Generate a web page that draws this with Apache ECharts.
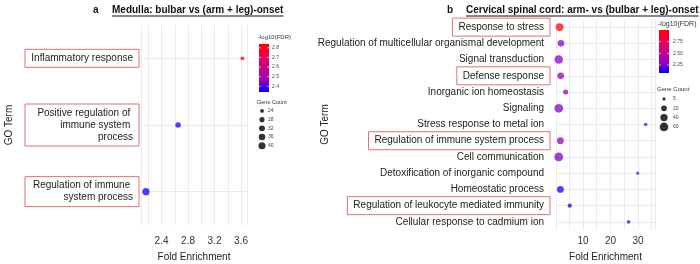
<!DOCTYPE html>
<html>
<head>
<meta charset="utf-8">
<script src="https://cdn.jsdelivr.net/npm/echarts@6/dist/echarts.min.js"></script>
<style>
html, body { margin: 0; padding: 0; background: #fff; }
#chart { width: 700px; height: 264px; }
</style>
</head>
<body>
<div id="chart"></div>
<script>
// panel a: Medulla
var termsA = ['Inflammatory response', 'Positive regulation of immune system process', 'Regulation of immune system process'];
var foldA = [3.62, 2.65, 2.165];
var countA = [24, 30, 41];
var fdrA = [2.84, 2.355, 2.345];
var xTicksA = [2.4, 2.8, 3.2, 3.6];
var fdrTicksA = [2.4, 2.5, 2.6, 2.7, 2.8];
var countTicksA = [24, 28, 32, 36, 40];

// panel b: Cervical spinal cord
var termsB = ['Response to stress', 'Regulation of multicellular organismal development', 'Signal transduction',
  'Defense response', 'Inorganic ion homeostasis', 'Signaling', 'Stress response to metal ion',
  'Regulation of immune system process', 'Cell communication', 'Detoxification of inorganic compound',
  'Homeostatic process', 'Regulation of leukocyte mediated immunity', 'Cellular response to cadmium ion'];
var foldB = [1.5, 2.0, 1.2, 1.9, 3.7, 1.2, 32.8, 1.8, 1.2, 29.9, 1.8, 5.2, 26.6];
var countB = [45, 30, 58, 30, 14, 62, 6, 32, 63, 5, 32, 9, 6];
var fdrB = [3.0, 2.3, 2.3, 2.3, 2.3, 2.28, 2.25, 2.3, 2.28, 2.25, 2.12, 2.1, 2.18];
var boxedB = [true, false, false, true, false, false, false, true, false, false, false, true, false];
var xTicksB = [10, 20, 30];
var fdrTicksB = [2.25, 2.5, 2.75];
var countTicksB = [5, 20, 40, 60];

var titleA = 'Medulla: bulbar vs (arm + leg)-onset';
var titleB = 'Cervical spinal cord: arm- vs (bulbar + leg)-onset';

var pal = ['#0000FF', '#9B00C2', '#C90089', '#E80050', '#FF0000'];
var FONT = '"Liberation Sans", Arial, sans-serif';
var boxColor = '#e07070';
var gridColor = '#ebebeb';

function sizer(lo, hi, dmin, dmax) {
  return function (v) {
    var t = Math.max(0, Math.min(1, (v - lo) / (hi - lo)));
    return dmin + (dmax - dmin) * Math.sqrt(t);
  };
}
var sizeA = sizer(23, 41, 2.8, 7.2);
var sizeB = sizer(4, 63, 2.4, 8.8);

function tickFormatter(list, dec) {
  return function (v) {
    for (var i = 0; i < list.length; i++) {
      if (Math.abs(v - list[i]) < 1e-6) return list[i].toFixed(dec);
    }
    return '';
  };
}

var measure = document.createElement('canvas').getContext('2d');
function textWidth(t, font) { measure.font = font; return measure.measureText(t).width; }

function gradientBar(lo, hi) {
  return function (params, api) {
    var p0 = api.coord([0, hi]);
    var p1 = api.coord([1, lo]);
    var stops = pal.slice().reverse().map(function (c, i) { return { offset: i / (pal.length - 1), color: c }; });
    return {
      type: 'rect',
      shape: { x: p0[0], y: p0[1], width: p1[0] - p0[0], height: p1[1] - p0[1] },
      style: { fill: new echarts.graphic.LinearGradient(0, 0, 0, 1, stops) }
    };
  };
}
function barTicks(dec, labelX) {
  return function (params, api) {
    var v = api.value(1);
    var l = api.coord([0, v]);
    var r = api.coord([1, v]);
    return {
      type: 'group',
      children: [
        { type: 'line', shape: { x1: l[0], y1: l[1], x2: l[0] + 2, y2: l[1] }, style: { stroke: '#fff', lineWidth: 0.6 } },
        { type: 'line', shape: { x1: r[0] - 2, y1: r[1], x2: r[0], y2: r[1] }, style: { stroke: '#fff', lineWidth: 0.6 } },
        { type: 'text', x: labelX, y: l[1], style: { text: v.toFixed(dec), fill: '#444', font: '5px ' + FONT, align: 'left', verticalAlign: 'middle' } }
      ]
    };
  };
}
function sizeKeys(sizeFn, labelX) {
  return function (params, api) {
    var c = api.value(1);
    var p = api.coord([0, params.dataIndex]);
    return {
      type: 'group',
      children: [
        { type: 'circle', shape: { cx: p[0], cy: p[1], r: sizeFn(c) / 2 }, style: { fill: '#333' } },
        { type: 'text', x: labelX, y: p[1], style: { text: String(c), fill: '#444', font: '5px ' + FONT, align: 'left', verticalAlign: 'middle' } }
      ]
    };
  };
}

var titleFont = 'bold 10px ' + FONT;
var wA = textWidth(titleA, titleFont);
var wB = textWidth(titleB, titleFont);

function g(opt) { opt.outerBoundsMode = 'none'; opt.containLabel = false; return opt; }

var chart = echarts.init(document.getElementById('chart'));
chart.setOption({
  animation: false,
  textStyle: { fontFamily: FONT },
  graphic: [
    { type: 'text', x: 93, y: 10, style: { text: 'a', font: titleFont, fill: '#111', verticalAlign: 'middle' } },
    { type: 'text', x: 112, y: 10, style: { text: titleA, font: titleFont, fill: '#111', verticalAlign: 'middle' } },
    { type: 'line', shape: { x1: 112, y1: 16, x2: 112 + wA, y2: 16 }, style: { stroke: '#111', lineWidth: 1 } },
    { type: 'text', x: 447, y: 10, style: { text: 'b', font: titleFont, fill: '#111', verticalAlign: 'middle' } },
    { type: 'text', x: 466, y: 10, style: { text: titleB, font: titleFont, fill: '#111', verticalAlign: 'middle' } },
    { type: 'line', shape: { x1: 466, y1: 16, x2: 466 + wB, y2: 16 }, style: { stroke: '#111', lineWidth: 1 } },
    { type: 'text', x: 258, y: 37, style: { text: '-log10(FDR)', font: '6px ' + FONT, fill: '#333', verticalAlign: 'middle' } },
    { type: 'text', x: 257, y: 102, style: { text: 'Gene Count', font: '5.5px ' + FONT, fill: '#333', verticalAlign: 'middle' } },
    { type: 'text', x: 658, y: 24, style: { text: '-log10(FDR)', font: '7px ' + FONT, fill: '#333', verticalAlign: 'middle' } },
    { type: 'text', x: 657, y: 89, style: { text: 'Gene Count', font: '6px ' + FONT, fill: '#333', verticalAlign: 'middle' } }
  ],
  grid: [
    g({ left: 141, top: 25, width: 106, height: 200 }),
    g({ left: 259, top: 44, width: 10, height: 48 }),
    g({ left: 258, top: 106.6, width: 8, height: 43.5 }),
    g({ left: 556, top: 19, width: 99, height: 211 }),
    g({ left: 659, top: 30, width: 10, height: 43 }),
    g({ left: 660, top: 94.3, width: 8, height: 37.3 })
  ],
  xAxis: [
    {
      gridIndex: 0, type: 'value', min: 2.09, max: 3.69, splitNumber: 8,
      axisLine: { show: false }, axisTick: { show: false },
      splitLine: { lineStyle: { color: gridColor } },
      axisLabel: { formatter: tickFormatter(xTicksA, 1), fontSize: 10, color: '#333', margin: 11 },
      name: 'Fold Enrichment', nameLocation: 'middle', nameGap: 27, nameMoveOverlap: false,
      nameTextStyle: { fontSize: 10, color: '#222' }
    },
    { gridIndex: 1, type: 'value', min: 0, max: 1, show: false },
    { gridIndex: 2, type: 'value', min: -1, max: 1, show: false },
    {
      gridIndex: 3, type: 'value', min: 0.2, max: 36.2, splitNumber: 8,
      axisLine: { show: false }, axisTick: { show: false },
      splitLine: { lineStyle: { color: gridColor } },
      axisLabel: { formatter: tickFormatter(xTicksB, 0), fontSize: 10, color: '#333', margin: 6 },
      name: 'Fold Enrichment', nameLocation: 'middle', nameGap: 22, nameMoveOverlap: false,
      nameTextStyle: { fontSize: 10, color: '#222' }
    },
    { gridIndex: 4, type: 'value', min: 0, max: 1, show: false },
    { gridIndex: 5, type: 'value', min: -1, max: 1, show: false }
  ],
  yAxis: [
    {
      gridIndex: 0, type: 'category', data: termsA, inverse: true,
      axisLine: { show: false }, axisTick: { show: false }, splitLine: { show: false },
      axisLabel: {
        fontSize: 10, color: '#222', width: 102, overflow: 'break', lineHeight: 12,
        borderColor: boxColor, borderWidth: 1, padding: [3, 6, 3, 6], margin: 2
      },
      name: 'GO Term', nameLocation: 'middle', nameRotate: 90, nameGap: 127, nameMoveOverlap: false,
      nameTextStyle: { fontSize: 10, color: '#222' }
    },
    { gridIndex: 1, type: 'value', min: 2.34, max: 2.84, show: false },
    { gridIndex: 2, type: 'category', data: countTicksA.map(String), inverse: true, show: false },
    {
      gridIndex: 3, type: 'category', data: termsB, inverse: true,
      axisLine: { show: false }, axisTick: { show: false }, splitLine: { show: false },
      axisLabel: {
        margin: 6,
        formatter: function (v, i) { return boxedB[i] ? '{box|' + v + '}' : '{plain|' + v + '}'; },
        rich: {
          box: { fontSize: 10, color: '#222', borderColor: boxColor, borderWidth: 1, padding: [4, 6, 4, 6] },
          plain: { fontSize: 10, color: '#222', padding: [0, 6, 0, 0] }
        }
      },
      name: 'GO Term', nameLocation: 'middle', nameRotate: 90, nameGap: 226, nameMoveOverlap: false,
      nameTextStyle: { fontSize: 10, color: '#222' }
    },
    { gridIndex: 4, type: 'value', min: 2.08, max: 3.0, show: false },
    { gridIndex: 5, type: 'category', data: countTicksB.map(String), inverse: true, show: false }
  ],
  visualMap: [
    { type: 'continuous', show: false, seriesIndex: 0, dimension: 3, min: 2.34, max: 2.84, inRange: { color: pal } },
    { type: 'continuous', show: false, seriesIndex: 5, dimension: 3, min: 2.08, max: 3.0, inRange: { color: pal } }
  ],
  series: [
    {
      type: 'scatter', xAxisIndex: 0, yAxisIndex: 0, z: 3,
      data: termsA.map(function (t, i) { return [foldA[i], t, countA[i], fdrA[i]]; }),
      symbolSize: function (d) { return sizeA(d[2]); },
      itemStyle: { opacity: 0.75 }
    },
    {
      type: 'line', xAxisIndex: 0, yAxisIndex: 0, data: [], z: 1,
      markLine: {
        silent: true, symbol: ['none', 'none'], label: { show: false }, z: 1,
        lineStyle: { color: gridColor, type: 'solid', width: 1 },
        data: termsA.map(function (t) { return { yAxis: t }; })
      }
    },
    {
      type: 'custom', xAxisIndex: 1, yAxisIndex: 1, data: [[0, 2.34]],
      renderItem: gradientBar(2.34, 2.84)
    },
    {
      type: 'custom', xAxisIndex: 1, yAxisIndex: 1, z: 4,
      data: fdrTicksA.map(function (v) { return [0, v]; }),
      renderItem: barTicks(1, 272)
    },
    {
      type: 'custom', xAxisIndex: 2, yAxisIndex: 2,
      data: countTicksA.map(function (c) { return [0, c]; }),
      renderItem: sizeKeys(sizeA, 268)
    },
    {
      type: 'scatter', xAxisIndex: 3, yAxisIndex: 3, z: 3,
      data: termsB.map(function (t, i) { return [foldB[i], t, countB[i], fdrB[i]]; }),
      symbolSize: function (d) { return sizeB(d[2]); },
      itemStyle: { opacity: 0.75 }
    },
    {
      type: 'line', xAxisIndex: 3, yAxisIndex: 3, data: [], z: 1,
      markLine: {
        silent: true, symbol: ['none', 'none'], label: { show: false }, z: 1,
        lineStyle: { color: gridColor, type: 'solid', width: 1 },
        data: termsB.map(function (t) { return { yAxis: t }; })
      }
    },
    {
      type: 'custom', xAxisIndex: 4, yAxisIndex: 4, data: [[0, 2.08]],
      renderItem: gradientBar(2.08, 3.0)
    },
    {
      type: 'custom', xAxisIndex: 4, yAxisIndex: 4, z: 4,
      data: fdrTicksB.map(function (v) { return [0, v]; }),
      renderItem: barTicks(2, 673)
    },
    {
      type: 'custom', xAxisIndex: 5, yAxisIndex: 5,
      data: countTicksB.map(function (c) { return [0, c]; }),
      renderItem: sizeKeys(sizeB, 673)
    }
  ]
});
</script>
</body>
</html>
